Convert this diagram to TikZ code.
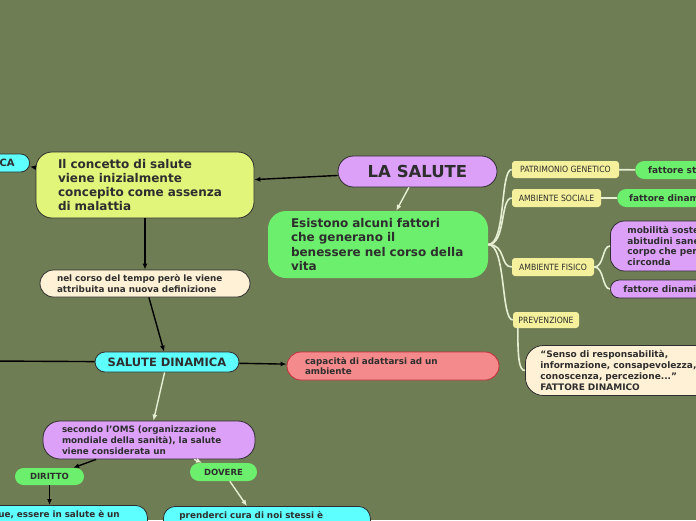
\documentclass[tikz,border=0pt]{standalone}
\usepackage{fontspec}
\setmainfont{DejaVu Sans}
\newfontfamily\labelfont{DejaVu Sans Condensed}
\usepackage{tikz}
\usetikzlibrary{arrows.meta}
\definecolor{mapbg}{HTML}{6F7D55}
\definecolor{ink}{HTML}{2E2E2E}
\definecolor{limey}{HTML}{E0F57A}
\definecolor{lilac}{HTML}{DCA0F8}
\definecolor{mint}{HTML}{6CEF6C}
\definecolor{cream}{HTML}{FFF1D6}
\definecolor{aqua}{HTML}{5EFFFF}
\definecolor{salmon}{HTML}{F58A8C}
\definecolor{brick}{HTML}{C5303C}
\definecolor{tagyellow}{HTML}{F4F09B}
\definecolor{pale}{HTML}{E6EFD2}

\begin{document}
\begin{tikzpicture}[x=1pt, y=-1pt,
    bubble/.style={rectangle, inner sep=0pt, text=ink, align=left,
                   font=\bfseries\fontsize{8.8}{10.8}\selectfont},
    big/.style={font=\bfseries\fontsize{12}{14.3}\selectfont},
    small/.style={font=\bfseries\fontsize{9}{11}\selectfont},
    outline/.style={draw=ink, line width=0.8pt},
    tag/.style={rectangle, rounded corners=3pt, fill=tagyellow, text=ink,
                inner sep=0pt, font=\labelfont\fontsize{8.6}{10}\selectfont},
    darrow/.style={draw=black, line width=1.4pt, -{Latex[length=6pt,width=5pt]}},
    larrow/.style={draw=pale, line width=1.4pt, -{Latex[length=6pt,width=5pt]}},
    branch/.style={draw=pale, line width=1.6pt},
  ]
  \useasboundingbox (0,0) rectangle (696,520);
  \fill[mapbg] (0,0) rectangle (696,520);

  \node[bubble, outline, fill=limey, big, rounded corners=16pt, minimum height=66pt,
        inner xsep=22pt, text width=174pt] (concept) at (145,185)
    {Il concetto di salute\\viene inizialmente\\concepito come assenza\\di malattia};
  \node[bubble, outline, fill=lilac, rounded corners=15.5pt, minimum width=159pt,
        minimum height=31pt, align=center,
        font=\bfseries\fontsize{16.5}{18}\selectfont] (salute) at (417.5,171.5) {LA SALUTE};
  \node[bubble, fill=mint, big, rounded corners=18pt, minimum height=67pt,
        inner xsep=23pt, text width=174pt] (fattori) at (378,244.5)
    {Esistono alcuni fattori\\che generano il\\benessere nel corso della\\vita};
  \node[bubble, outline, fill=aqua, rounded corners=9pt, anchor=east, minimum height=18pt,
        inner xsep=15pt, font=\bfseries\fontsize{10}{12}\selectfont] (statica) at (30,163) {CA};

  \node[bubble, outline, fill=cream, rounded corners=13.5pt, minimum height=27pt,
        inner xsep=17pt, text width=176pt] (nelcorso) at (145,283.5)
    {nel corso del tempo però le viene\\attribuita una nuova definizione};
  \node[bubble, outline, fill=aqua, rounded corners=10pt, minimum width=144pt,
        minimum height=20pt, align=center,
        font=\bfseries\fontsize{11.5}{13}\selectfont] (dinamica) at (167,362) {SALUTE DINAMICA};
  \coordinate (leftend) at (-10,361);
  \node[bubble, draw=brick, line width=0.8pt, fill=salmon, rounded corners=14pt,
        minimum height=28pt, inner xsep=18pt, text width=176pt] (capacita) at (393,366)
    {capacità di adattarsi ad un\\ambiente};
  \node[bubble, outline, fill=lilac, rounded corners=17pt, minimum height=38pt,
        inner xsep=19pt, text width=174pt] (oms) at (149,440)
    {secondo l'OMS (organizzazione\\mondiale della sanità), la salute\\viene considerata un};
  \node[bubble, fill=mint, rounded corners=8.5pt, minimum width=69pt, minimum height=17pt,
        align=center, font=\bfseries\fontsize{8.5}{10}\selectfont] (diritto) at (49.5,476.5) {DIRITTO};
  \node[bubble, fill=mint, rounded corners=9pt, minimum width=67pt, minimum height=18pt,
        align=center, font=\bfseries\fontsize{8.5}{10}\selectfont] (dovere) at (223.5,472) {DOVERE};
  \node[bubble, outline, fill=aqua, rounded corners=12pt, anchor=north west,
        inner xsep=20pt, inner ysep=5pt, text width=129pt, text height=7pt,
        text depth=30pt] (dirnode) at (-22,505) {ue, essere in salute è un};
  \node[bubble, outline, fill=aqua, rounded corners=12pt, anchor=north west,
        inner xsep=16pt, inner ysep=5pt, text width=175pt, text height=7pt,
        text depth=30pt] (dovnode) at (163,506) {prenderci cura di noi stessi è};

  \node[tag, minimum width=107pt, minimum height=17pt] (genetico) at (565.5,169.5) {PATRIMONIO GENETICO};
  \node[bubble, fill=mint, small, rounded corners=9pt, anchor=west, minimum height=18pt,
        inner xsep=13pt] (statico) at (635,170) {fattore sta};
  \node[tag, minimum width=89pt, minimum height=18pt] (sociale) at (556.5,198) {AMBIENTE SOCIALE};
  \node[bubble, fill=mint, small, rounded corners=9pt, anchor=west, minimum height=18pt,
        inner xsep=12pt] (dinam) at (617,198) {fattore dinam};
  \node[tag, minimum width=82pt, minimum height=18pt] (fisico) at (553,267) {AMBIENTE FISICO};
  \node[bubble, outline, fill=lilac, rounded corners=14pt, anchor=west, minimum height=50pt,
        inner xsep=17pt, text width=110pt, font=\bfseries\fontsize{9}{10.8}\selectfont]
    (mobilita) at (610,246) {mobilità soste\\abitudini sane\\corpo che per\\circonda};
  \node[bubble, outline, fill=lilac, small, rounded corners=9pt, anchor=west,
        minimum height=18pt, inner xsep=13pt] (dinamico) at (610,289) {fattore dinamic};
  \node[tag, minimum width=66pt, minimum height=16pt] (prevenzione) at (546,320) {PREVENZIONE};
  \node[bubble, outline, fill=cream, rounded corners=18pt, anchor=west, minimum height=50pt,
        inner xsep=15pt, text width=180pt, font=\bfseries\fontsize{9}{11.3}\selectfont]
    (senso) at (525,370.5)
    {“Senso di responsabilità,\\informazione, consapevolezza,\\conoscenza, percezione...”\\FATTORE DINAMICO};

  \draw[darrow] (salute) -- (concept);
  \draw[darrow] (concept) -- (statica);
  \draw[larrow] (salute) -- (fattori);
  \draw[darrow] (concept) -- (nelcorso);
  \draw[darrow] (nelcorso) -- (dinamica);
  \draw[black, line width=1.4pt] (dinamica) -- (leftend);
  \draw[darrow] (dinamica) -- (capacita);
  \draw[larrow] (dinamica) -- (oms);
  \draw[darrow] (oms) -- (diritto);
  \draw[larrow] (oms) -- (dovere);
  \draw[darrow] (diritto) -- (diritto |- dirnode.north);
  \draw[larrow] (dovere) -- ([xshift=-20pt]dovnode.north);

  \draw[branch] (fattori.east) .. controls +(18,0) and +(-12,0) .. (genetico.west);
  \draw[branch] (fattori.east) .. controls +(18,0) and +(-12,0) .. (sociale.west);
  \draw[branch] (fattori.east) .. controls +(18,0) and +(-12,0) .. (fisico.west);
  \draw[branch] (fattori.east) .. controls +(18,0) and +(-12,0) .. (prevenzione.west);
  \draw[branch] (genetico) -- (statico);
  \draw[branch] (sociale) -- (dinam);
  \draw[branch] (fisico.east) .. controls +(10,0) and +(-8,0) .. (mobilita.west);
  \draw[branch] (fisico.east) .. controls +(10,0) and +(-8,0) .. (dinamico.west);
  \draw[branch] ([xshift=5pt]prevenzione.south west) .. controls +(0,30) and +(-6,0) .. (senso.west);
\end{tikzpicture}
\end{document}
